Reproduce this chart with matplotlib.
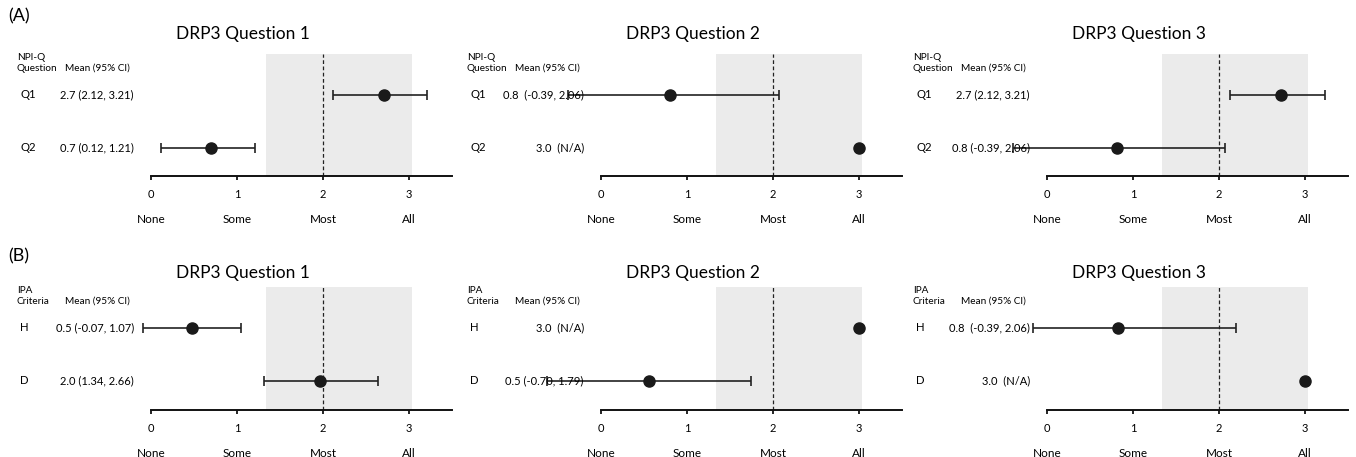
import numpy as np
import matplotlib
matplotlib.use("Agg")
import matplotlib.pyplot as plt

plt.rcParams['font.family'] = ['Lato', 'DejaVu Sans']

# ---------------- data ----------------
titles = ["DRP3 Question 1", "DRP3 Question 2", "DRP3 Question 3"]
row_labels_A = ["Q1", "Q2"]
row_labels_B = ["H", "D"]
header_A = ("NPI-Q", "Question")
header_B = ("IPA", "Criteria")
axis_ticks = [0, 1, 2, 3]
axis_words = ["None", "Some", "Most", "All"]

# Row A (NPI-Q questions)
means_A = [[2.71, 0.70], [0.80, 3.00], [2.72, 0.81]]
lo_A = [[2.12, 0.12], [-0.38, np.nan], [2.13, -0.39]]
hi_A = [[3.21, 1.21], [2.07, np.nan], [3.23, 2.07]]
text_A = [["2.7 (2.12, 3.21)", "0.7 (0.12, 1.21)"],
          ["0.8  (-0.39, 2.06)", "3.0  (N/A)"],
          ["2.7 (2.12, 3.21)", "0.8 (-0.39, 2.06)"]]

# Row B (IPA criteria)
means_B = [[0.48, 1.97], [3.00, 0.56], [0.82, 3.00]]
lo_B = [[-0.09, 1.31], [np.nan, -0.63], [-0.16, np.nan]]
hi_B = [[1.05, 2.64], [np.nan, 1.74], [2.20, np.nan]]
text_B = [["0.5 (-0.07, 1.07)", "2.0 (1.34, 2.66)"],
          ["3.0  (N/A)", "0.5 (-0.70, 1.79)"],
          ["0.8  (-0.39, 2.06)", "3.0  (N/A)"]]

band = (1.34, 3.03)
ref_line = 2

# ---------------- layout ----------------
W, H = 1356, 457
fig = plt.figure(figsize=(W / 100, H / 100), dpi=100)
fig.patch.set_facecolor("white")

zero_px = [151, 601, 1047]
unit_px = 86.0
xmax = 3.5


def make_ax(x0, top, bottom):
    return fig.add_axes([x0 / W, (H - bottom) / H, xmax * unit_px / W, (bottom - top) / H])


def draw_panel(ax, title, means, lo, hi, labels, texts, header, ylim, title_y):
    ax.set_xlim(0, xmax)
    ax.set_ylim(*ylim)
    ax.axvspan(band[0], band[1], color="#ebebeb", lw=0, zorder=0)
    ax.axvline(ref_line, color="#222222", ls=(0, (3, 2)), lw=0.9, zorder=1)
    ys = [2, 1]
    for i in range(2):
        m = means[i]
        if not np.isnan(lo[i]):
            ax.errorbar([m], [ys[i]], xerr=[[m - lo[i]], [hi[i] - m]], fmt="none",
                        ecolor="#222222", elinewidth=1.2, capsize=3.5, capthick=1.2,
                        zorder=3, clip_on=False)
        ax.plot([m], [ys[i]], "o", color="#1a1a1a", ms=8, zorder=4, clip_on=False)
        ax.text(-1.52, ys[i], labels[i], ha="left", va="center", fontsize=8.2)
        ax.text(-0.2, ys[i], texts[i], ha="right", va="center", fontsize=8)
    top = ylim[1]
    ax.text(-1.56, top - 0.06, header[0], ha="left", va="center", fontsize=7.2)
    ax.text(-1.56, top - 0.27, header[1], ha="left", va="center", fontsize=7.2)
    ax.text(-1.0, top - 0.27, "Mean (95% CI)", ha="left", va="center", fontsize=7.2)
    ax.text(1.07, title_y, title, ha="center", va="center", fontsize=12.5)
    for s in ["top", "right", "left"]:
        ax.spines[s].set_visible(False)
    ax.spines["bottom"].set_linewidth(1.4)
    ax.spines["bottom"].set_color("#111111")
    ax.set_yticks([])
    ax.set_xticks(axis_ticks)
    ax.set_xticklabels([str(t) for t in axis_ticks], fontsize=8)
    ax.tick_params(axis="x", length=3, width=1.2, pad=6)
    for t, w in zip(axis_ticks, axis_words):
        ax.annotate(w, xy=(t, 0), xycoords=("data", "axes fraction"),
                    xytext=(0, -31), textcoords="offset points",
                    ha="center", va="center", fontsize=8.5)


for k in range(3):
    axA = make_ax(zero_px[k], 54, 176)
    draw_panel(axA, titles[k], means_A[k], lo_A[k], hi_A[k], row_labels_A,
               text_A[k], header_A, (0.47, 2.77), 3.15)
    axB = make_ax(zero_px[k], 287, 410)
    draw_panel(axB, titles[k], means_B[k], lo_B[k], hi_B[k], row_labels_B,
               text_B[k], header_B, (0.45, 2.77), 3.03)

fig.text(8 / W, 1 - 16 / H, "(A)", ha="left", va="center", fontsize=13)
fig.text(8 / W, 1 - 256 / H, "(B)", ha="left", va="center", fontsize=13)

fig.savefig("out.png", dpi=100, facecolor="white")
